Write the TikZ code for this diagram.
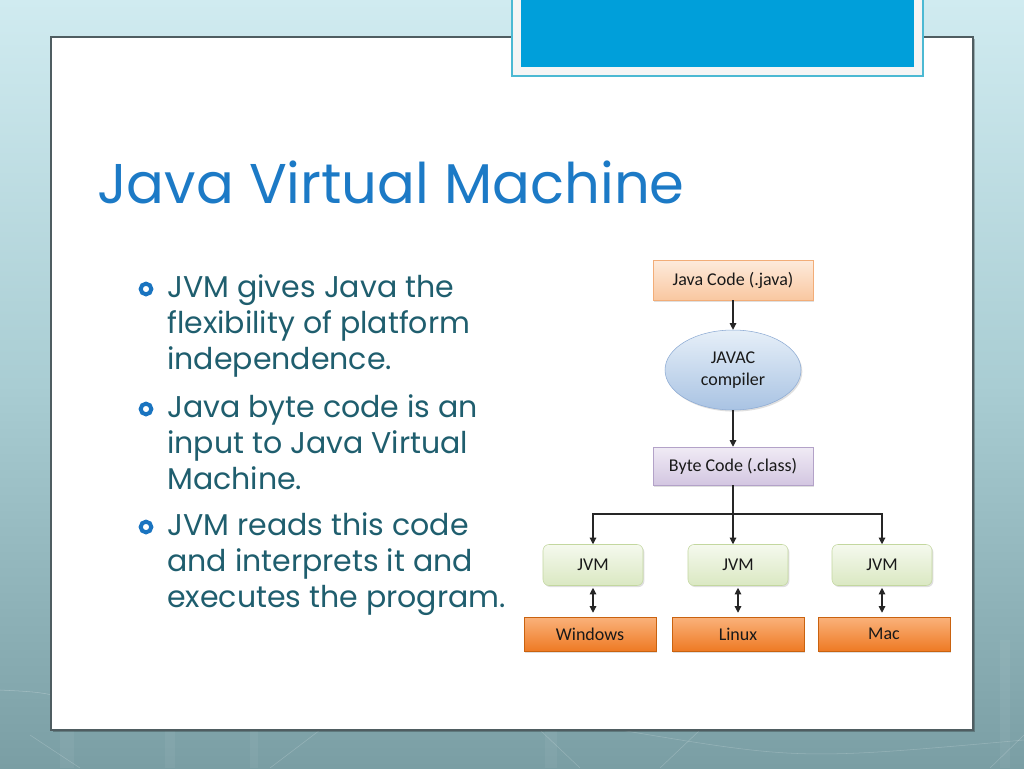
\documentclass[tikz,border=0pt]{standalone}
\usepackage{fontspec}
\newfontfamily\gothicfont{Poppins}
\newfontfamily\calibfont{Carlito}
\usepackage{tikz}
\usetikzlibrary{arrows.meta,positioning,calc,shapes.geometric,shadows}
\definecolor{bgtop}{HTML}{D0EBF0}
\definecolor{bgmid}{HTML}{A9CDD3}
\definecolor{bgbot}{HTML}{7A9EA4}
\definecolor{paneledge}{HTML}{4F5D61}
\definecolor{tabblue}{HTML}{009FDA}
\definecolor{tabedge}{HTML}{4CB9D3}
\definecolor{titleblue}{HTML}{1C7AC6}
\definecolor{bodyteal}{HTML}{1F5E6E}
\definecolor{dotblue}{HTML}{1A74C0}
\definecolor{srctop}{HTML}{FDEBDC}
\definecolor{srcbot}{HTML}{F9C7A0}
\definecolor{srcedge}{HTML}{F2AD78}
\definecolor{comptop}{HTML}{E6EFF8}
\definecolor{compbot}{HTML}{A9C3E3}
\definecolor{compedge}{HTML}{8DABD4}
\definecolor{classtop}{HTML}{F0EBF5}
\definecolor{classbot}{HTML}{D3C6E1}
\definecolor{classedge}{HTML}{B3A2C8}
\definecolor{vmtop}{HTML}{F5F9EE}
\definecolor{vmbot}{HTML}{DAE8C2}
\definecolor{vmedge}{HTML}{C3D79F}
\definecolor{ostop}{HTML}{FAB27B}
\definecolor{osbot}{HTML}{EE7A24}
\definecolor{osedge}{HTML}{C9620F}
\begin{document}
\begin{tikzpicture}[x=0.75pt,y=-0.75pt,
  diag/.style={font=\calibfont\fontsize{13.5}{16.5}\selectfont,text=black!90,align=center,
    drop shadow={opacity=0.25,shadow xshift=1pt,shadow yshift=-1.2pt}},
  srcbox/.style={diag,draw=srcedge,top color=srctop,bottom color=srcbot,minimum width=120pt,minimum height=30pt},
  compbox/.style={diag,ellipse,draw=compedge,top color=comptop,bottom color=compbot,minimum width=102pt,minimum height=60pt,inner sep=0pt},
  classbox/.style={diag,draw=classedge,top color=classtop,bottom color=classbot,minimum width=120pt,minimum height=28.5pt},
  vmbox/.style={diag,rounded corners=4.5pt,draw=vmedge,top color=vmtop,bottom color=vmbot,minimum width=75pt,minimum height=30.75pt},
  osbox/.style={diag,draw=osedge,top color=ostop,bottom color=osbot,minimum width=99pt,minimum height=25.5pt},
  flow/.style={-{Triangle[length=5pt,width=5pt]},line width=0.8pt,black!85},
  both/.style={{Triangle[length=5pt,width=5pt]}-{Triangle[length=5pt,width=5pt]},line width=0.8pt,black!85,shorten <=1.5pt,shorten >=3pt},
  bullet/.style={circle,draw=dotblue,line width=3pt,minimum size=8pt,inner sep=0pt},
  bodytext/.style={anchor=base west,inner sep=0pt,align=left,text=bodyteal,font=\gothicfont\fontsize{22.5}{27}\selectfont}]
\useasboundingbox (0,0) rectangle (1024,768);
% slide background
\shade[top color=bgtop,bottom color=bgbot,middle color=bgmid] (0,0) rectangle (1024,768);
\foreach \x/\w in {60/14,165/10,250/8,545/12,1000/10}{
  \fill[white,opacity=0.05] (\x,640) rectangle (\x+\w,768);}
\draw[white,opacity=0.25] (0,690) .. controls (40,692) .. (75,700);
\draw[white,opacity=0.2] (30,735) -- (80,768);
\draw[white,opacity=0.2] (270,768) -- (320,730);
\draw[white,opacity=0.2] (540,730) -- (580,768);
\draw[white,opacity=0.2] (660,768) -- (700,730);
\draw[white,opacity=0.2] (620,730) .. controls (800,760) .. (1024,740);
\draw[white,opacity=0.2] (990,768) -- (1024,735);
% white panel
\fill[black,opacity=0.25] (53,39) rectangle (975,732);
\draw[paneledge,fill=white,line width=0.8pt] (51,37) rectangle (973,730);
% blue tab at the top
\draw[tabedge,fill=black!4,line width=1.2pt] (512,-5) rectangle (923,76);
\fill[tabblue] (521,-5) rectangle (914,67);
% title and bullets (base = last line)
\node[anchor=base west,inner sep=0pt,text=titleblue,font=\gothicfont\fontsize{42}{50}\selectfont] (title) at (97,203) {Java Virtual Machine};
\node[bodytext] (B1) at (167,369) {JVM gives Java the\\ flexibility of platform\\ independence.};
\node[bodytext] (B2) at (167,489) {Java byte code is an\\ input to Java Virtual\\ Machine.};
\node[bodytext] (B3) at (167,607) {JVM reads this code\\ and interprets it and\\ executes the program.};
\node[bullet] (D1) at (146,289) {};
\node[bullet] (D2) at (146,409) {};
\node[bullet] (D3) at (146,527) {};
% flow diagram
\node[srcbox] (JC) at (733,280) {Java Code (.java)};
\node[compbox] (JAVAC) at (733,370) {JAVAC\\ compiler};
\node[classbox] (BC) at (733,466) {Byte Code (.class)};
\node[vmbox] (JVM1) at (593,565) {JVM};
\node[vmbox] (JVM2) at (738,565) {JVM};
\node[vmbox] (JVM3) at (882,565) {JVM};
\node[osbox] (OS1) at (590,634) {Windows};
\node[osbox] (OS2) at (738,634) {Linux};
\node[osbox] (OS3) at (884,634) {Mac};
\coordinate (split) at (733,514);
\draw[flow] (JC) -- (JAVAC);
\draw[flow] (JAVAC) -- (BC);
\draw[flow] (BC.south) -- (BC.south |- JVM2.north);
\draw[flow] (split) -| (JVM1.north);
\draw[flow] (split) -| (JVM3.north);
\foreach \vm/\os in {JVM1/OS1,JVM2/OS2,JVM3/OS3}{
  \draw[both] (\vm.south) -- (\vm.south |- \os.north);}
\end{tikzpicture}
\end{document}
